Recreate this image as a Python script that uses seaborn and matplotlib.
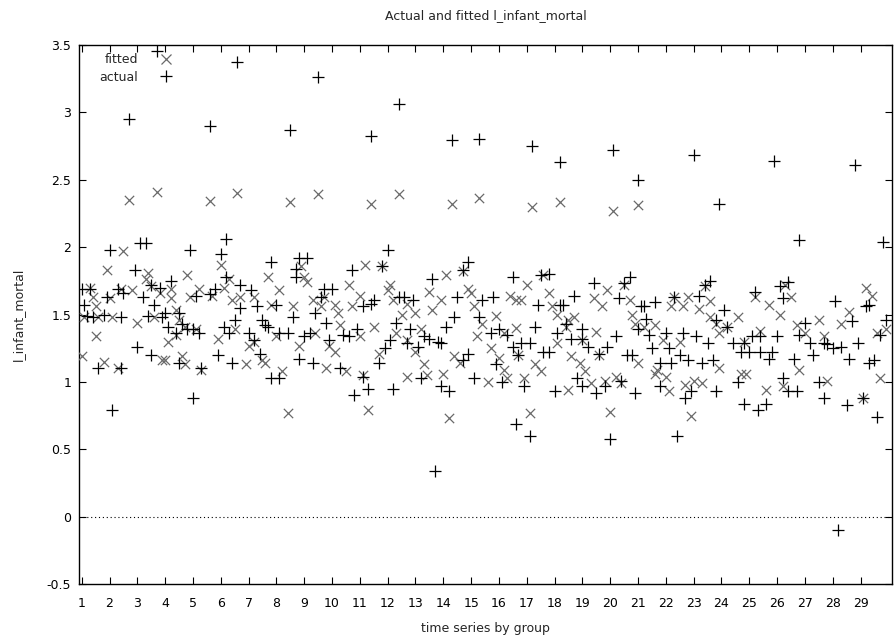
import pandas as pd
import matplotlib
matplotlib.use("Agg")
import matplotlib.pyplot as plt
from matplotlib.lines import Line2D
import seaborn as sns

actual_obs = [0, 1, 2, 3, 4, 6, 8, 9, 10, 11, 13, 14, 14, 15, 17, 19, 20, 21, 22, 23, 24, 25, 25, 26, 27, 28, 29,
              30, 31, 32, 34, 35, 35, 36, 38, 39, 40, 40, 41, 42, 43, 46, 46, 48, 49, 50, 51, 52, 52, 53, 54, 55, 56, 57, 57,
              60, 61, 62, 63, 64, 65, 66, 67, 68, 68, 70, 71, 71, 74, 75, 76, 77, 77, 78, 78, 80, 81, 82, 83, 84, 85, 86,
              87, 88, 89, 90, 93, 94, 96, 97, 98, 99, 101, 101, 103, 104, 104, 105, 107, 108, 109, 110, 111, 112, 113, 114, 114,
              116, 117, 118, 119, 121, 122, 123, 125, 126, 127, 128, 129, 129, 131, 132, 133, 134, 135, 137, 137, 139, 139, 141, 143, 143, 144,
              148, 147, 149, 150, 151, 153, 155, 155, 156, 157, 158, 159, 161, 161, 162, 163, 164, 165, 166, 168, 168, 170, 171, 172, 172,
              173, 174, 176, 177, 178, 180, 180, 180, 182, 184, 185, 186, 188, 189, 190, 191, 192, 193, 194, 195, 196, 197, 198, 199, 200, 200, 201,
              202, 203, 204, 205, 206, 208, 208, 210, 211, 212, 213, 214, 215, 216, 217, 218, 219, 220, 221, 222, 223, 224, 225, 226, 227, 228, 228, 229,
              231, 232, 234, 236, 237, 238, 238, 240, 241, 242, 243, 244, 244, 246, 247, 248, 249, 250, 251, 252, 252, 254, 254, 256, 257, 258, 258,
              260, 262, 263, 265, 267, 267, 268, 270, 271, 272, 273, 275, 276, 277, 278, 279, 281, 282, 283, 283, 285, 286, 287, 288, 289]
actual_val = [1.69, 1.57, 1.49, 1.69, 1.48, 1.10, 1.50, 1.63, 1.98, 0.79, 1.69, 1.48, 1.10, 1.66, 2.95, 1.83, 1.26, 2.03, 1.63, 2.03, 1.49, 1.72, 1.20, 1.57, 3.45, 1.70, 1.48,
              1.51, 1.41, 1.75, 1.36, 1.51, 1.14, 1.43, 1.39, 1.98, 1.39, 0.88, 1.64, 1.36, 1.10, 2.90, 1.65, 1.69, 1.20, 1.95, 1.41, 2.06, 1.78, 1.36, 1.14, 1.46, 3.37, 1.72, 1.55,
              1.36, 1.68, 1.31, 1.56, 1.21, 1.46, 1.42, 1.41, 1.89, 1.03, 1.57, 1.36, 1.03, 1.36, 2.87, 1.48, 1.84, 1.78, 1.92, 1.17, 1.34, 1.92, 1.36, 1.14, 1.51, 3.26, 1.63,
              1.69, 1.44, 1.31, 1.69, 1.10, 1.35, 1.34, 1.83, 0.90, 1.39, 1.56, 1.04, 0.95, 2.82, 1.58, 1.61, 1.14, 1.86, 1.25, 1.98, 1.31, 0.95, 1.44, 3.06, 1.63,
              1.63, 1.29, 1.39, 1.61, 1.26, 1.03, 1.34, 1.32, 1.76, 0.34, 1.30, 1.29, 0.97, 1.41, 0.93, 2.79, 1.48, 1.63, 1.83, 1.16, 1.89, 1.21, 1.03, 2.80, 1.48, 1.61,
              1.63, 1.36, 1.13, 1.39, 1.00, 1.35, 1.78, 1.26, 0.69, 1.20, 1.29, 0.97, 1.29, 0.60, 2.75, 1.41, 1.57, 1.79, 1.22, 1.80, 1.22, 0.93, 1.36, 2.63, 1.57,
              1.57, 1.43, 1.32, 1.64, 1.03, 1.39, 1.32, 0.97, 1.26, 1.73, 0.92, 1.21, 0.97, 1.26, 0.58, 2.72, 1.34, 1.62, 1.01, 1.73, 1.20, 1.78, 1.20, 0.92, 2.50, 1.39, 1.56,
              1.56, 1.47, 1.35, 1.25, 1.59, 1.14, 0.97, 1.36, 1.25, 1.14, 1.63, 0.60, 1.20, 1.36, 0.88, 1.16, 0.93, 2.68, 1.34, 1.64, 1.14, 1.72, 1.29, 1.75, 1.16, 1.46, 0.93, 2.32,
              1.53, 1.41, 1.29, 1.00, 1.22, 1.29, 0.84, 1.22, 1.34, 1.67, 0.79, 1.34, 1.22, 0.84, 1.17, 1.22, 2.64, 1.34, 1.71, 1.62, 1.03, 1.74, 0.93, 1.17, 0.93, 2.05, 1.35,
              1.44, 1.29, 1.20, 1.00, 1.29, 0.88, 1.28, 1.25, 1.60, -0.10, 1.26, 0.83, 1.17, 1.45, 2.61, 1.29, 0.88, 1.56, 1.57, 1.14, 1.16, 0.74, 1.35, 2.04, 1.46]

fitted_obs = [0, 1, 3, 4, 5, 5, 6, 8, 9, 10, 11, 13, 14, 15, 17, 18, 20, 23, 24, 25, 26, 27, 28, 29,
              30, 31, 32, 32, 34, 34, 35, 36, 37, 37, 38, 39, 41, 42, 43, 46, 47, 49, 50, 51, 53, 54, 55, 56, 57,
              59, 60, 62, 62, 65, 66, 67, 68, 70, 71, 72, 74, 75, 76, 78, 79, 80, 81, 83, 84, 85, 86,
              87, 88, 89, 91, 91, 92, 93, 95, 96, 97, 100, 100, 101, 102, 103, 104, 105, 107, 108, 110, 111, 112, 113, 114, 115,
              117, 117, 117, 120, 120, 122, 123, 124, 125, 126, 129, 130, 131, 132, 133, 134, 136, 137, 139, 140, 141, 142, 143,
              144, 146, 147, 149, 150, 152, 152, 153, 154, 156, 156, 157, 158, 159, 160, 161, 162, 163, 165, 166, 168, 169, 171, 171, 172,
              174, 175, 175, 176, 177, 179, 180, 181, 183, 184, 185, 186, 187, 188, 189, 190, 191, 192, 194, 195, 197, 198, 199, 200, 200,
              202, 206, 206, 207, 209, 210, 211, 212, 213, 215, 216, 217, 218, 219, 220, 222, 223, 224, 226, 226, 228, 229, 229,
              232, 236, 237, 238, 239, 242, 244, 246, 247, 251, 252, 253, 255, 257, 258,
              260, 265, 267, 268, 273, 276, 281, 282, 284, 286, 287, 289]
fitted_val = [1.19, 1.48, 1.70, 1.63, 1.56, 1.34, 1.48, 1.15, 1.83, 1.62, 1.48, 1.10, 1.69, 1.97, 2.35, 1.68, 1.44, 1.76, 1.81, 1.71, 1.48, 2.41, 1.66, 1.16,
              1.16, 1.30, 1.69, 1.62, 1.53, 1.35, 1.46, 1.19, 1.41, 1.13, 1.79, 1.63, 1.39, 1.69, 1.09, 2.34, 1.64, 1.32, 1.87, 1.70, 1.76, 1.61, 1.39, 2.40, 1.63,
              1.13, 1.27, 1.63, 1.30, 1.16, 1.14, 1.78, 1.57, 1.34, 1.68, 1.08, 0.77, 2.33, 1.56, 1.27, 1.86, 1.78, 1.74, 1.61, 1.36, 2.39, 1.56,
              1.63, 1.10, 1.27, 1.57, 1.22, 1.51, 1.42, 1.08, 1.72, 1.56, 1.64, 1.34, 1.05, 1.87, 0.79, 2.32, 1.41, 1.21, 1.86, 1.68, 1.72, 1.61, 1.36, 2.39, 1.50,
              1.58, 1.31, 1.04, 1.51, 1.22, 1.39, 1.13, 1.05, 1.67, 1.53, 1.61, 1.06, 1.79, 0.73, 2.32, 1.19, 1.14, 1.82, 1.69, 1.66, 1.56, 1.34, 2.36,
              1.43, 1.00, 1.25, 1.49, 1.18, 1.36, 1.09, 1.03, 1.64, 1.61, 1.40, 1.20, 1.61, 1.03, 1.72, 0.77, 2.30, 1.13, 1.08, 1.79, 1.66, 1.56, 1.50, 1.29, 2.33,
              1.41, 1.46, 0.94, 1.19, 1.48, 1.14, 1.31, 1.08, 0.99, 1.62, 1.37, 1.20, 1.56, 1.01, 1.68, 0.78, 2.27, 1.04, 0.99, 1.72, 1.61, 1.50, 1.43, 2.31, 1.14,
              1.41, 1.42, 1.06, 1.09, 1.31, 1.04, 0.93, 1.56, 1.63, 1.30, 1.56, 0.98, 1.63, 0.75, 1.01, 1.54, 0.99, 1.71, 1.60, 1.48, 1.43, 1.36, 1.10,
              1.41, 1.48, 1.06, 1.30, 1.06, 1.63, 1.38, 0.94, 1.57, 1.50, 0.97, 1.72, 1.63, 1.42, 1.09,
              1.36, 1.46, 1.34, 1.01, 1.43, 1.52, 0.88, 1.70, 1.64, 1.36, 1.03, 1.39]

group_labels = [str(g) for g in range(1, 30)]
yticks = [-0.5, 0, 0.5, 1, 1.5, 2, 2.5, 3, 3.5]

df_act = pd.DataFrame({"obs": actual_obs, "val": actual_val})
df_fit = pd.DataFrame({"obs": fitted_obs, "val": fitted_val})

sns.set_style("ticks")
plt.rcParams["font.family"] = ["DejaVu Sans"]
plt.rcParams["font.size"] = 9

fig = plt.figure(figsize=(8.95, 6.36), dpi=100)
ax = fig.add_axes([0.0888, 0.081, 0.9078, 0.849])

sns.scatterplot(data=df_fit, x="obs", y="val", marker="x", color="#6a6a6a",
                s=45, linewidth=0.9, ax=ax, zorder=3)
sns.scatterplot(data=df_act, x="obs", y="val", marker="+", color="black",
                s=80, linewidth=0.9, ax=ax, zorder=4)

ax.axhline(0, color="black", linestyle=(0, (1, 2.5)), linewidth=0.8, zorder=1)

ax.set_xlim(-0.8, 291.3)
ax.set_ylim(-0.5, 3.5)
ax.set_xticks(range(0, 290, 10))
ax.set_xticklabels(group_labels)
ax.set_yticks(yticks)
ax.set_yticklabels(["-0.5", "0", "0.5", "1", "1.5", "2", "2.5", "3", "3.5"])
ax.tick_params(direction="in", length=5, width=0.8, top=True, right=True,
               labelsize=9, colors="black")
ax.tick_params(axis="x", pad=9)
ax.tick_params(axis="y", pad=6)
for s in ax.spines.values():
    s.set_color("black")
    s.set_linewidth(1)

ax.set_title("Actual and fitted l_infant_mortal", fontsize=9, pad=18)
ax.set_xlabel("time series by group", fontsize=9, labelpad=9)
ax.set_ylabel("l_infant_mortal", fontsize=9, labelpad=16)

handles = [Line2D([], [], marker="x", color="#6a6a6a", linestyle="none", markersize=7, markeredgewidth=0.9),
           Line2D([], [], marker="+", color="black", linestyle="none", markersize=9, markeredgewidth=0.9)]
ax.legend(handles, ["fitted", "actual"], loc="upper left", bbox_to_anchor=(0.017, 0.995),
          frameon=False, markerfirst=False, handlelength=1.2, handletextpad=1.6,
          borderpad=0, labelspacing=0.35, fontsize=9)

fig.savefig("out.png", dpi=100)
